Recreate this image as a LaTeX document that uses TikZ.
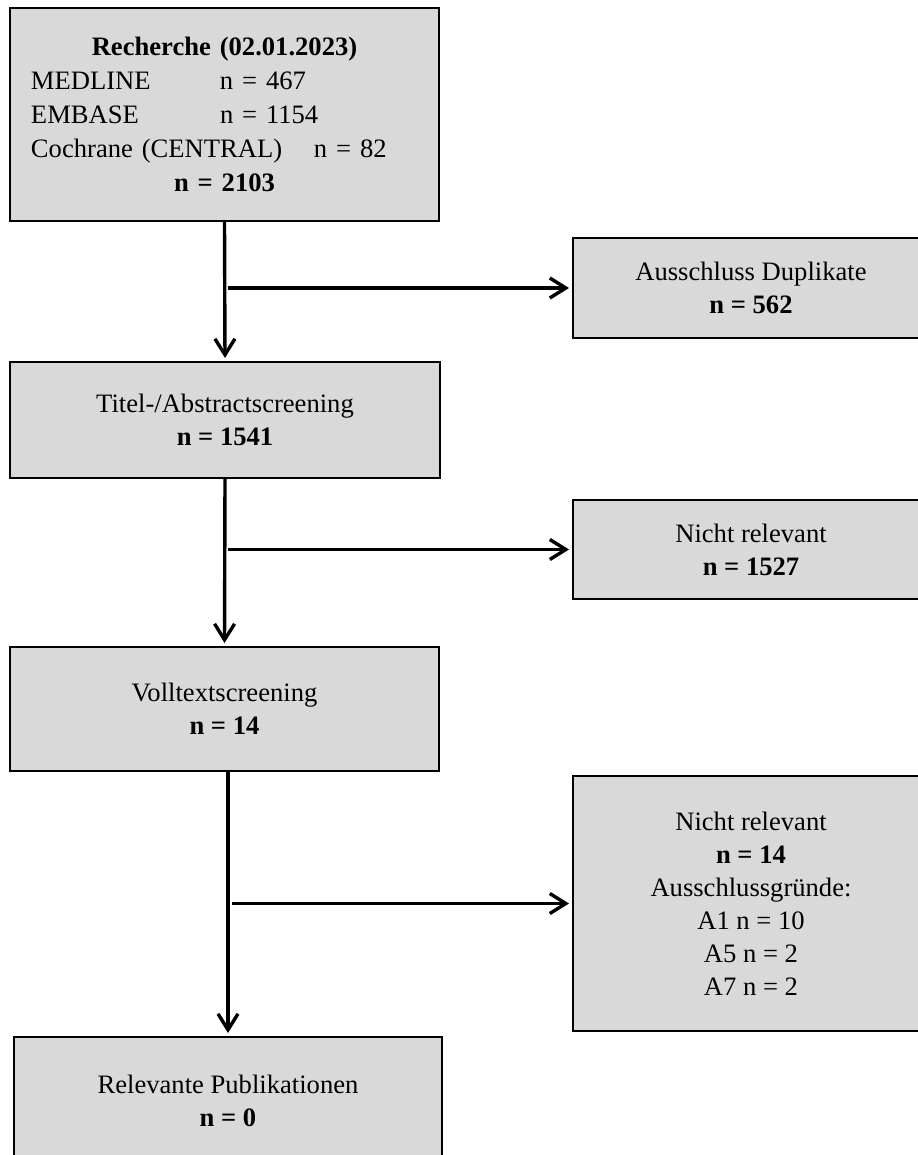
\documentclass[tikz,border=0pt]{standalone}
\usepackage{fontspec}
\setmainfont{Liberation Serif}
\usetikzlibrary{arrows.meta}
\definecolor{boxgray}{RGB}{217,217,217}
\begin{document}
\begin{tikzpicture}[x=0.5pt,y=-0.5pt,
  box/.style={draw=black, line width=1pt, fill=boxgray, align=center, inner sep=0pt,
    font={\fontsize{13.3}{16.5}\selectfont}},
  arr/.style={line width=1.7pt, -{Straight Barb[length=8pt,width=10pt]}, shorten >=1.5pt}]
\useasboundingbox (0,0) rectangle (917,1155);

\node[box, minimum width=214.5pt, minimum height=106.5pt, text width=193.5pt, align=left,
  font={\fontsize{13.3}{17}\selectfont}] (rech) at (224.5,114.5)
  {\makebox[\linewidth]{\textbf{Recherche (02.01.2023)}}\\
   \makebox[94.5pt][l]{MEDLINE}n = 467\\
   \makebox[94.5pt][l]{EMBASE}n = 1154\\
   \makebox[141.5pt][l]{Cochrane (CENTRAL)}n = 82\\
   \makebox[\linewidth]{\textbf{n = 2103}}};

\node[box, minimum width=178pt, minimum height=50pt] (dup) at (751,288)
  {Ausschluss Duplikate\\ \textbf{n = 562}};

\node[box, minimum width=215pt, minimum height=58pt] (titel) at (225,420)
  {Titel-/Abstractscreening\\ \textbf{n = 1541}};

\node[box, minimum width=178pt, minimum height=49.5pt] (nr1) at (751,549.5)
  {Nicht relevant\\ \textbf{n = 1527}};

\node[box, minimum width=214.5pt, minimum height=62pt] (voll) at (224.5,709)
  {Volltextscreening\\ \textbf{n = 14}};

\node[box, minimum width=178pt, minimum height=127.5pt] (nr2) at (751,903.5)
  {Nicht relevant\\ \textbf{n = 14}\\ Ausschlussgründe:\\ A1 n = 10\\ A5 n = 2\\ A7 n = 2};

\node[box, minimum width=214pt, minimum height=63.5pt] (rel) at (228,1100.5)
  {Relevante Publikationen\\ \textbf{n = 0}};

\coordinate (j1) at (dup.west -| rech.south);
\coordinate (j2) at (nr1.west -| titel.south);
\coordinate (j3) at (nr2.west -| rel.north);
\coordinate (s3) at (voll.south -| rel.north);

\draw[arr] (rech.south) -- (titel.north);
\draw[arr] ([xshift=1.5pt]j1) -- (dup.west);
\draw[arr] (titel.south) -- (voll.north);
\draw[arr] ([xshift=1.5pt]j2) -- (nr1.west);
\draw[arr] (s3) -- (rel.north);
\draw[arr] ([xshift=2pt]j3) -- (nr2.west);
\end{tikzpicture}
\end{document}
